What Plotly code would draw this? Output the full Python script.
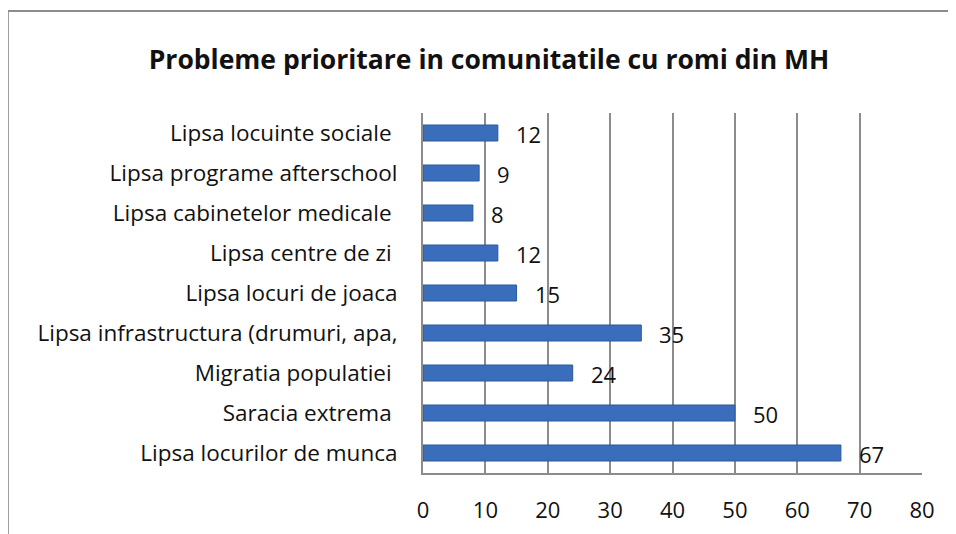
import plotly.graph_objects as go

# Date
categorii = [
    "Lipsa locurilor de munca",
    "Saracia extrema\u00a0",
    "Migratia populatiei\u00a0",
    "Lipsa infrastructura (drumuri, apa,",
    "Lipsa locuri de joaca",
    "Lipsa centre de zi\u00a0",
    "Lipsa cabinetelor medicale\u00a0",
    "Lipsa programe afterschool",
    "Lipsa locuinte sociale\u00a0",
]
valori = [67, 50, 24, 35, 15, 12, 8, 9, 12]
x_ticks = [0, 10, 20, 30, 40, 50, 60, 70, 80]

FONT = "Open Sans, sans-serif"
COLOR_BAR = "#3A6EBD"
COLOR_GRID = "#8C8C8C"

fig = go.Figure()

fig.add_trace(
    go.Bar(
        x=valori,
        y=categorii,
        orientation="h",
        width=0.4,
        marker=dict(color=COLOR_BAR, line=dict(color="#2C5899", width=1)),
        showlegend=False,
        hoverinfo="skip",
    )
)

# etichete de valori, decalate fata de capatul barei
for cat, val in zip(categorii, valori):
    fig.add_annotation(
        x=val, y=cat, text=str(val), showarrow=False,
        xanchor="left", yanchor="middle", xshift=16, yshift=-1,
        font=dict(family=FONT, size=22, color="#111111"),
    )

# chenarul graficului
fig.add_shape(
    type="rect", xref="paper", yref="paper",
    x0=-0.832, x1=1.2, y0=-0.5, y1=1.283,
    line=dict(color="#8C8C8C", width=2), layer="below",
)

# pagina are margine de 8px, deci figura e putin mai mica
fig.update_layout(
    width=948,
    height=526,
    margin=dict(l=415, r=34, t=105, b=61),
    paper_bgcolor="white",
    plot_bgcolor="white",
    title=dict(
        text="<b>Probleme prioritare in comunitatile cu romi din MH</b>",
        x=481 / 948, xref="container", xanchor="center",
        y=1 - 52 / 526, yref="container", yanchor="middle",
        font=dict(family=FONT, size=26.5, color="#111111"),
    ),
    font=dict(family=FONT, size=22, color="#111111"),
)

fig.update_xaxes(
    range=[0, 80],
    tickvals=x_ticks,
    showgrid=True, gridcolor=COLOR_GRID, gridwidth=2,
    showline=True, linecolor=COLOR_GRID, linewidth=2,
    zeroline=False,
    ticks="",
    ticklabelstandoff=17,
    tickfont=dict(family=FONT, size=22),
    automargin=False,
    fixedrange=True,
)

fig.update_yaxes(
    categoryorder="array", categoryarray=categorii,
    showgrid=False,
    showline=True, linecolor=COLOR_GRID, linewidth=2,
    ticks="", ticklabelstandoff=19,
    tickfont=dict(family=FONT, size=22.5),
    automargin=False,
    fixedrange=True,
)

fig.write_html("out.html")
